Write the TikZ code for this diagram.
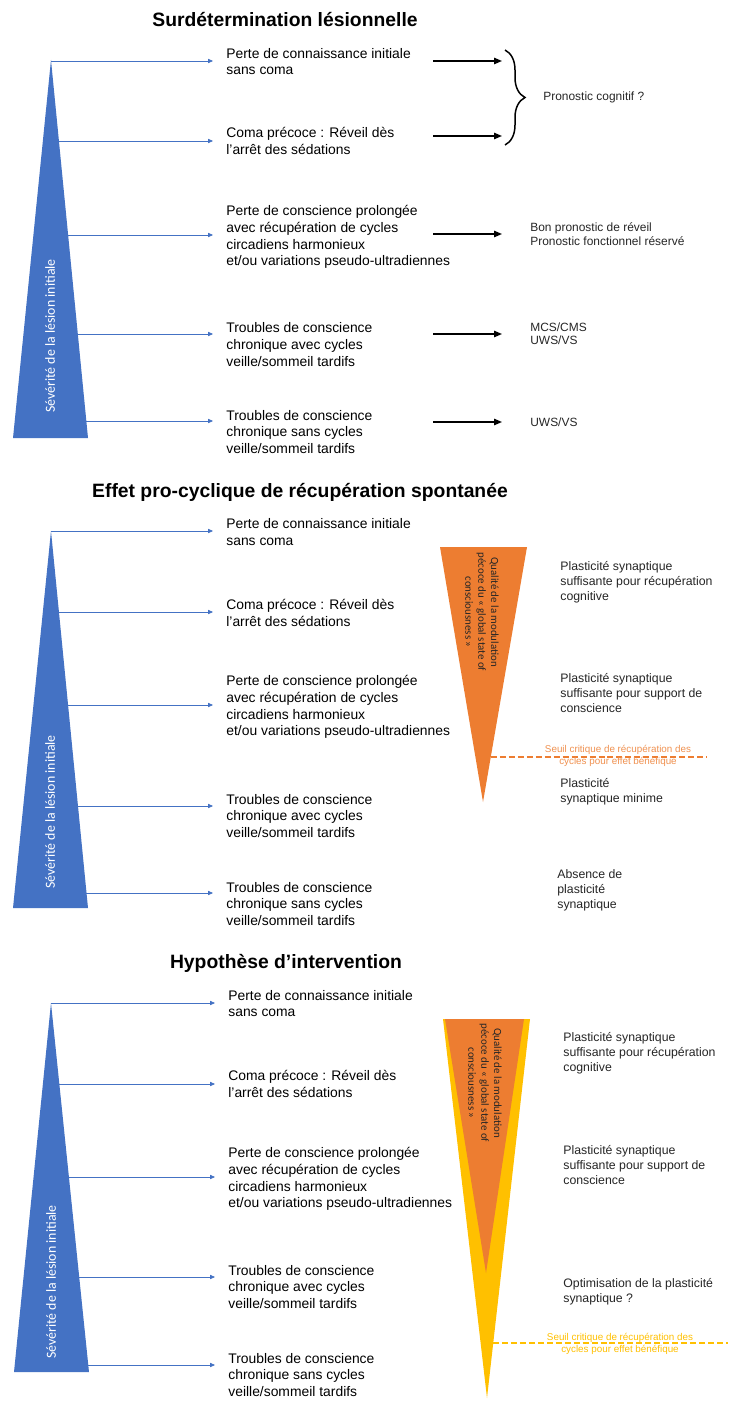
\documentclass[tikz,border=0pt]{standalone}
\usepackage{fontspec}
\setmainfont{Liberation Sans}
\newfontfamily\calibri{Carlito}
\usepackage{tikz}
\usetikzlibrary{arrows.meta, positioning, decorations.pathreplacing}
\usepackage{xcolor}

\definecolor{lesionblue}{HTML}{4472C4}
\definecolor{gsoorange}{HTML}{ED7D31}
\definecolor{gsoyellow}{HTML}{FFC000}
\definecolor{textgray}{HTML}{262626}

\begin{document}
\begin{tikzpicture}[
    x=0.02cm, y=-0.02cm,
    >=Stealth,
    every node/.style={inner sep=0pt},
    title/.style={font=\fontsize{11}{13}\selectfont\bfseries},
    item/.style={anchor=west, align=left, font=\fontsize{7.9}{9.6}\selectfont},
    outcome/.style={anchor=west, align=left, text=textgray, font=\fontsize{6.8}{7.6}\selectfont},
    plast/.style={anchor=west, align=left, text=textgray, font=\fontsize{7}{8.5}\selectfont},
    sev arrow/.style={draw=lesionblue, line width=0.4pt, -{Triangle[length=2.8pt,width=2.4pt]}, shorten >=0.26cm},
    out arrow/.style={line width=0.85pt, -{Triangle[length=4.5pt,width=3.6pt]}},
    sev label/.style={rotate=90, text=white, font=\calibri\fontsize{7.9}{9}\selectfont},
    gso label/.style={rotate=-90, align=center, text=black!85, font=\calibri\fontsize{6.2}{7.3}\selectfont},
    seuil/.style={dash pattern=on 3.4pt off 1.7pt, line width=0.85pt},
    seuil label/.style={align=center, font=\fontsize{5.6}{7.2}\selectfont}
  ]

  \fill[white] (0,0) rectangle (728,1405);
  \useasboundingbox (0,0) rectangle (728,1405);

  % --- Surdetermination lesionnelle
  \node[title] (t1) at (285,20) {Surdétermination lésionnelle};

  \node[item] (i11) at (226,61.5) {Perte de connaissance initiale\\sans coma};
  \node[item] (i12) at (226,141) {Coma précoce : Réveil dès\\l’arrêt des sédations};
  \node[item] (i13) at (226,237) {Perte de conscience prolongée\\avec récupération de cycles\\circadiens harmonieux\\et/ou variations pseudo-ultradiennes};
  \node[item] (i14) at (226,344.5) {Troubles de conscience\\chronique avec cycles\\veille/sommeil tardifs};
  \node[item] (i15) at (226,432) {Troubles de conscience\\chronique sans cycles\\veille/sommeil tardifs};

  \coordinate (a11) at (51,61);
  \coordinate (a12) at (51,141);
  \coordinate (a13) at (51,235);
  \coordinate (a14) at (51,334);
  \coordinate (a15) at (51,421);
  \draw[sev arrow] (a11) -- (a11 -| i11.west);
  \draw[sev arrow] (a12) -- (a12 -| i12.west);
  \draw[sev arrow] (a13) -- (a13 -| i13.west);
  \draw[sev arrow] (a14) -- (a14 -| i14.west);
  \draw[sev arrow] (a15) -- (a15 -| i15.west);

  \fill[lesionblue] (51,60) -- (88,438) -- (13,438) -- cycle;
  \node[sev label] (sev1) at (50,336) {Sévérité de la lésion initiale};

  \node[outcome] (pron) at (543,97) {Pronostic cognitif ?};
  \node[outcome] (r13) at (530,234) {Bon pronostic de réveil\\Pronostic fonctionnel réservé};
  \node[outcome] (r14) at (530,334) {MCS/CMS\\UWS/VS};
  \node[outcome] (r15) at (530,422) {UWS/VS};

  \coordinate (o11) at (433,61);
  \coordinate (o12) at (433,136);
  \coordinate (o13) at (433,234);
  \coordinate (o14) at (433,334);
  \coordinate (o15) at (433,422);
  \draw[out arrow, shorten >=0.82cm] (o11) -- (o11 -| pron.west);
  \draw[out arrow, shorten >=0.82cm] (o12) -- (o12 -| pron.west);
  \draw[out arrow, shorten >=0.56cm] (o13) -- (o13 -| r13.west);
  \draw[out arrow, shorten >=0.56cm] (o14) -- (o14 -| r14.west);
  \draw[out arrow, shorten >=0.56cm] (o15) -- (o15 -| r15.west);

  \draw[decorate, decoration={brace, amplitude=0.4cm}, line width=0.85pt] (505,50) -- (505,145);

  % --- Effet pro-cyclique
  \node[title] (t2) at (300,492) {Effet pro-cyclique de récupération spontanée};

  \node[item] (i21) at (226,532) {Perte de connaissance initiale\\sans coma};
  \node[item] (i22) at (226,613) {Coma précoce : Réveil dès\\l’arrêt des sédations};
  \node[item] (i23) at (226,707) {Perte de conscience prolongée\\avec récupération de cycles\\circadiens harmonieux\\et/ou variations pseudo-ultradiennes};
  \node[item] (i24) at (226,816) {Troubles de conscience\\chronique avec cycles\\veille/sommeil tardifs};
  \node[item] (i25) at (226,904) {Troubles de conscience\\chronique sans cycles\\veille/sommeil tardifs};

  \coordinate (a21) at (51,531);
  \coordinate (a22) at (51,612);
  \coordinate (a23) at (51,705);
  \coordinate (a24) at (51,806);
  \coordinate (a25) at (51,893);
  \draw[sev arrow] (a21) -- (a21 -| i21.west);
  \draw[sev arrow] (a22) -- (a22 -| i22.west);
  \draw[sev arrow] (a23) -- (a23 -| i23.west);
  \draw[sev arrow] (a24) -- (a24 -| i24.west);
  \draw[sev arrow] (a25) -- (a25 -| i25.west);

  \fill[lesionblue] (51,531) -- (88,908) -- (13,908) -- cycle;
  \node[sev label] (sev2) at (50,812) {Sévérité de la lésion initiale};

  \fill[gsoorange] (440,547) -- (527,547) -- (483,802) -- cycle;
  \node[gso label] (gso2) at (482,612) {Qualité de la modulation\\pécoce du « global state of\\consciousness »};

  \node[plast] (q21) at (560,582) {Plasticité synaptique\\suffisante pour récupération\\cognitive};
  \node[plast] (q22) at (560,693) {Plasticité synaptique\\suffisante pour support de\\conscience};
  \node[plast] (q23) at (560,792) {Plasticité\\synaptique minime};
  \node[plast] (q24) at (557,890) {Absence de\\plasticité\\synaptique};

  \draw[seuil, draw=gsoorange] (491,757) -- (707,757);
  \node[seuil label, text=gsoorange!85] (seuil2) at (618,756) {Seuil critique de récupération des\\cycles pour effet bénéfique};

  % --- Hypothese d'intervention
  \node[title] (t3) at (286,963) {Hypothèse d’intervention};

  \node[item] (i31) at (228,1003.5) {Perte de connaissance initiale\\sans coma};
  \node[item] (i32) at (228,1084) {Coma précoce : Réveil dès\\l’arrêt des sédations};
  \node[item] (i33) at (228,1179) {Perte de conscience prolongée\\avec récupération de cycles\\circadiens harmonieux\\et/ou variations pseudo-ultradiennes};
  \node[item] (i34) at (228,1287) {Troubles de conscience\\chronique avec cycles\\veille/sommeil tardifs};
  \node[item] (i35) at (228,1375) {Troubles de conscience\\chronique sans cycles\\veille/sommeil tardifs};

  \coordinate (a31) at (51,1003);
  \coordinate (a32) at (51,1084);
  \coordinate (a33) at (51,1177);
  \coordinate (a34) at (51,1277);
  \coordinate (a35) at (51,1365);
  \draw[sev arrow] (a31) -- (a31 -| i31.west);
  \draw[sev arrow] (a32) -- (a32 -| i32.west);
  \draw[sev arrow] (a33) -- (a33 -| i33.west);
  \draw[sev arrow] (a34) -- (a34 -| i34.west);
  \draw[sev arrow] (a35) -- (a35 -| i35.west);

  \fill[lesionblue] (51,1003) -- (89,1372) -- (14,1372) -- cycle;
  \node[sev label] (sev3) at (51,1282) {Sévérité de la lésion initiale};

  \fill[gsoyellow] (443,1019) -- (530,1019) -- (487,1398) -- cycle;
  \fill[gsoorange] (445,1019) -- (524,1019) -- (486,1273) -- cycle;
  \node[gso label] (gso3) at (485,1083) {Qualité de la modulation\\pécoce du « global state of\\consciousness »};

  \node[plast] (s31) at (563,1053) {Plasticité synaptique\\suffisante pour récupération\\cognitive};
  \node[plast] (s32) at (563,1165) {Plasticité synaptique\\suffisante pour support de\\conscience};
  \node[plast] (s33) at (563,1292) {Optimisation de la plasticité\\synaptique ?};

  \draw[seuil, draw=gsoyellow] (493,1343) -- (728,1343);
  \node[seuil label, text=gsoyellow] (seuil3) at (620,1344) {Seuil critique de récupération des\\cycles pour effet bénéfique};

\end{tikzpicture}
\end{document}
